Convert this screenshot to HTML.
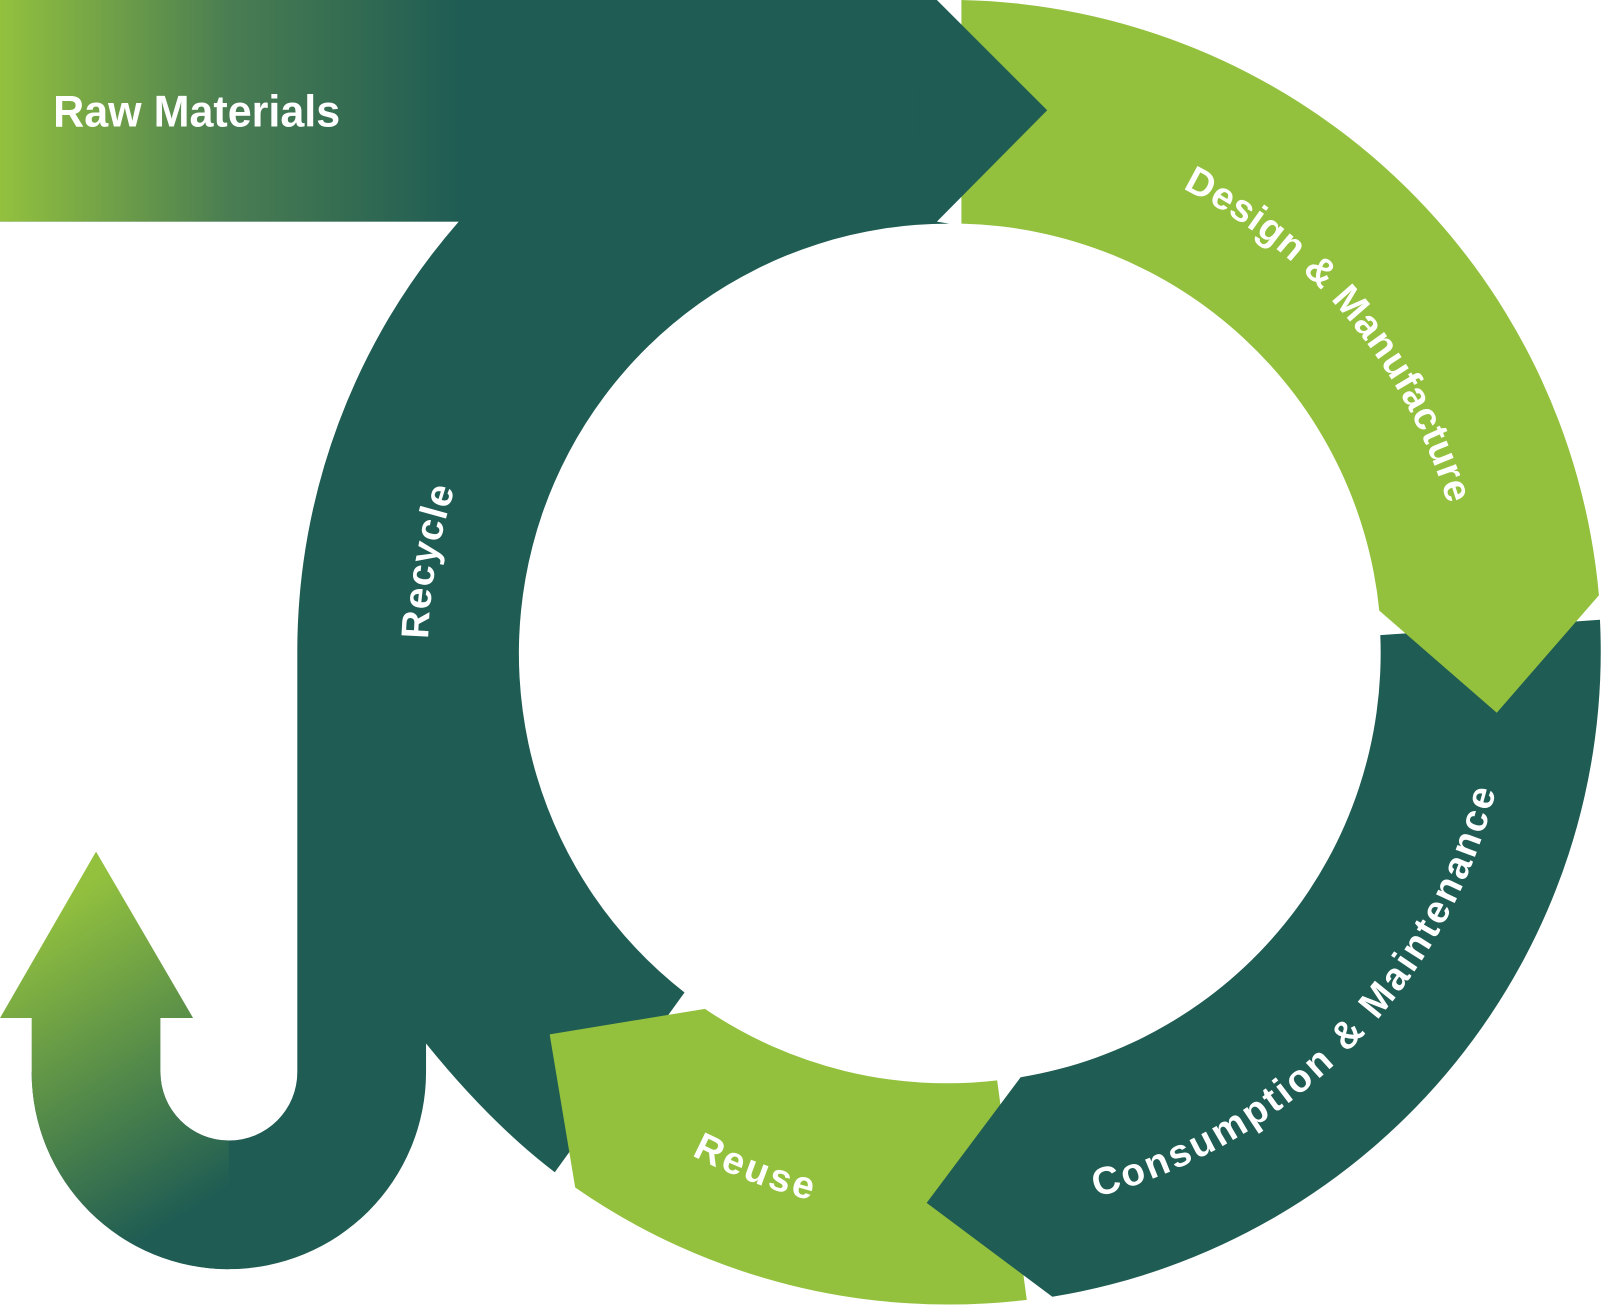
<!DOCTYPE html>
<html><head><meta charset="utf-8"><style>
html,body{margin:0;padding:0;background:#fff;}
svg{display:block;}
text{font-family:"Liberation Sans",sans-serif;font-weight:bold;fill:#fff;}
</style></head><body>
<svg width="1602" height="1307" viewBox="0 0 1568 1280" preserveAspectRatio="none" xmlns="http://www.w3.org/2000/svg">
<defs>
<linearGradient id="gBar" gradientUnits="userSpaceOnUse" x1="0" y1="0" x2="450" y2="0">
<stop offset="0" stop-color="#93c13e"/><stop offset="0.5" stop-color="#4a7d52"/><stop offset="1" stop-color="#1f5c53"/>
</linearGradient>
<linearGradient id="gPipe" gradientUnits="userSpaceOnUse" x1="60" y1="880" x2="230" y2="1160">
<stop offset="0" stop-color="#93c13e"/><stop offset="1" stop-color="#1f5c53"/>
</linearGradient>
<path id="pDesign" d="M840.5,138 A510,510 0 0 1 1408,814"/>
<path id="pRecycle" d="M601,1031 A510,510 0 0 1 755,161"/>
<path id="pCons" d="M791,1174 A552,552 0 0 0 1461,492.5"/>
<path id="pReuse" d="M384,729 A552,552 0 0 0 1279,1067"/>
</defs>
<!-- Recycle / main dark -->
<path fill="#1f5c53" d="M917,0 L917,217 L929,219 A421,421 0 0 0 670,972 L543,1148 Q480,1100 417,1022 L417,1050 A193,193 0 0 1 31,1050 L157,1050 A67,67 0 0 0 291,1050 L291,640 A640,640 0 0 1 449,217 L0,217 L0,0 Z"/>
<rect x="0" y="0" width="917" height="217" fill="url(#gBar)"/>
<path fill="url(#gPipe)" d="M0,997 L94,834 L189,997 L157,997 L157,1050 A67,67 0 0 0 224,1117 L224,1243 A193,193 0 0 1 31,1050 L31,997 Z"/>
<!-- Reuse -->
<path fill="#93c13e" d="M976,1058 L1005,1273 A640,640 0 0 1 563,1163 L538,1013 L690,988 A421,421 0 0 0 976,1058 Z"/>
<!-- Consumption -->
<path fill="#1f5c53" d="M1351,622 L1566,607 A640,640 0 0 1 1030,1270 L907,1178 L999,1055 A421,421 0 0 0 1351,622 Z"/>
<!-- Design -->
<path fill="#93c13e" d="M941,0 A640,640 0 0 1 1565,583 L1465,698 L1350,598 A421,421 0 0 0 941,219 Z"/>
<!-- dark arrow head over green -->
<path fill="#1f5c53" d="M900,0 L917,0 L1025,108 L917,217 L900,217 Z"/>

<text x="52" y="124" font-size="44" textLength="281" lengthAdjust="spacingAndGlyphs">Raw Materials</text>
<text font-size="38"><textPath href="#pDesign" startOffset="50%" text-anchor="middle" textLength="415" lengthAdjust="spacing">Design &amp; Manufacture</textPath></text>
<text font-size="38"><textPath href="#pRecycle" startOffset="50%" text-anchor="middle" textLength="150" lengthAdjust="spacing">Recycle</textPath></text>
<text font-size="38"><textPath href="#pCons" startOffset="50%" text-anchor="middle" textLength="585" lengthAdjust="spacing">Consumption &amp; Maintenance</textPath></text>
<text font-size="38"><textPath href="#pReuse" startOffset="50%" text-anchor="middle" textLength="125" lengthAdjust="spacing">Reuse</textPath></text>
</svg>
</body></html>
